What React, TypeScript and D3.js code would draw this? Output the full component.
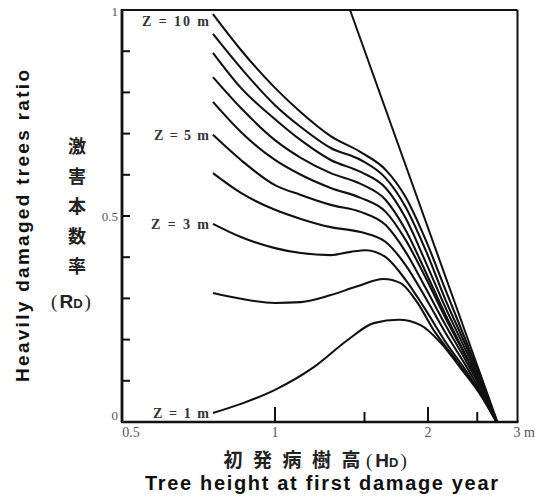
import React from 'react';
import * as d3 from 'd3';

// Tree height at first damage year (m) sample points
const hGrid = [0.755, 0.857, 1.0, 1.124, 1.287, 1.474, 1.651, 1.807, 1.979, 2.166, 2.371, 2.56, 2.728];
const hZ3 = [0.755, 0.857, 1.0, 1.124, 1.287, 1.409, 1.508, 1.651, 1.807, 1.979, 2.166, 2.371, 2.56, 2.728];
const hZ2 = [0.755, 0.857, 1.0, 1.124, 1.287, 1.441, 1.636, 1.767, 1.908, 2.052, 2.246, 2.425, 2.619, 2.728];
const hZ1 = [0.755, 0.857, 1.0, 1.192, 1.39, 1.564, 1.751, 1.934, 2.118, 2.318, 2.515, 2.728];

// Heavily damaged trees ratio per Z
const rZ10 = [0.99, 0.903, 0.811, 0.752, 0.694, 0.655, 0.612, 0.546, 0.442, 0.32, 0.199, 0.097, 0];
const rZ9 = [0.942, 0.859, 0.769, 0.716, 0.665, 0.636, 0.592, 0.522, 0.417, 0.296, 0.187, 0.09, 0];
const rZ8 = [0.896, 0.811, 0.735, 0.684, 0.636, 0.607, 0.568, 0.495, 0.388, 0.277, 0.175, 0.083, 0];
const rZ7 = [0.837, 0.762, 0.684, 0.641, 0.604, 0.578, 0.539, 0.466, 0.364, 0.26, 0.163, 0.078, 0];
const rZ6 = [0.777, 0.704, 0.636, 0.6, 0.568, 0.544, 0.51, 0.442, 0.35, 0.252, 0.16, 0.078, 0];
const rZ5 = [0.697, 0.636, 0.575, 0.551, 0.527, 0.51, 0.478, 0.413, 0.325, 0.235, 0.15, 0.073, 0];
const rZ4 = [0.604, 0.556, 0.515, 0.493, 0.473, 0.461, 0.437, 0.381, 0.301, 0.216, 0.138, 0.066, 0];
const rZ3 = [0.481, 0.449, 0.422, 0.41, 0.405, 0.413, 0.417, 0.4, 0.345, 0.272, 0.194, 0.126, 0.061, 0];
const rZ2 = [0.313, 0.299, 0.289, 0.291, 0.308, 0.328, 0.347, 0.337, 0.289, 0.223, 0.158, 0.102, 0.046, 0];
const rZ1 = [0.022, 0.044, 0.078, 0.133, 0.199, 0.24, 0.248, 0.235, 0.192, 0.131, 0.073, 0];

// Envelope straight line
const envelopeH = [1.405, 2.74];
const envelopeR = [1, 0];

const labeledZ = [10, 5, 3, 1];
const labelWidths = [67, 55, 58, 56];

const xTickMajor = [1, 2];
const xTickMinor = [1.5, 2.5];
const xTickLabels = [
  { v: 0.5, t: '0.5' },
  { v: 1, t: '1' },
  { v: 2, t: '2' },
  { v: 3, t: '3 m' },
];
const yTickLabels = [
  { v: 1, t: '1' },
  { v: 0.5, t: '0.5' },
  { v: 0, t: '0' },
];
const jpYTitle = ['激', '害', '本', '数', '率'];
const jpXTitle = ['初', '発', '病', '樹', '高'];

export default function App() {
  const x = d3.scaleLog().domain([0.5, 3]).range([122, 517.5]);
  const y = d3.scaleLinear().domain([0, 1]).range([422, 10]);
  const line = d3
    .line<[number, number]>()
    .x((d) => x(d[0]))
    .y((d) => y(d[1]))
    .curve(d3.curveMonotoneX);

  const seriesData: { z: number; h: number[]; r: number[] }[] = [
    { z: 10, h: hGrid, r: rZ10 },
    { z: 9, h: hGrid, r: rZ9 },
    { z: 8, h: hGrid, r: rZ8 },
    { z: 7, h: hGrid, r: rZ7 },
    { z: 6, h: hGrid, r: rZ6 },
    { z: 5, h: hGrid, r: rZ5 },
    { z: 4, h: hGrid, r: rZ4 },
    { z: 3, h: hZ3, r: rZ3 },
    { z: 2, h: hZ2, r: rZ2 },
    { z: 1, h: hZ1, r: rZ1 },
  ];

  const yMinorTicks = d3.range(1, 10).map((i) => i / 10);
  const [x0, x1] = x.range();
  const [yb, yt] = y.range();

  const envPts: [number, number][] = envelopeH.map((h, i) => [h, envelopeR[i]]);

  return (
    <svg
      width={535}
      height={497}
      style={{ position: 'absolute', left: 0, top: 0, background: '#fff' }}
    >
      <rect x={0} y={0} width={535} height={497} fill="#fff" />
      {/* frame */}
      <line x1={x0} y1={yt} x2={x1} y2={yt} stroke="#111" strokeWidth={2} />
      <line x1={x1} y1={yt} x2={x1} y2={yb} stroke="#111" strokeWidth={2} />
      <line x1={x0} y1={yt - 1} x2={x0} y2={yb} stroke="#111" strokeWidth={2.8} />
      <line x1={x0 - 1} y1={yb} x2={x1 + 1} y2={yb} stroke="#111" strokeWidth={2.6} />

      {/* y ticks */}
      {yMinorTicks.map((v) => (
        <line key={'yt' + v} x1={x0} x2={x0 + 8} y1={y(v)} y2={y(v)} stroke="#111" strokeWidth={2} />
      ))}
      {/* x ticks */}
      {xTickMajor.map((v) => (
        <line key={'xM' + v} x1={x(v)} x2={x(v)} y1={yb} y2={yb - 15} stroke="#111" strokeWidth={2} />
      ))}
      {xTickMinor.map((v) => (
        <line key={'xm' + v} x1={x(v)} x2={x(v)} y1={yb} y2={yb - 10} stroke="#111" strokeWidth={2} />
      ))}

      {/* tick labels */}
      {yTickLabels.map((d) => (
        <text
          key={'yl' + d.v}
          x={x0 - 4}
          y={d.v === 1 ? y(d.v) + 6 : d.v === 0 ? y(d.v) - 2 : y(d.v) + 5}
          textAnchor="end"
          fontFamily="Liberation Serif, serif"
          fontSize={13}
          fill="#555"
        >
          {d.t}
        </text>
      ))}
      {xTickLabels.map((d) => (
        <text
          key={'xl' + d.v}
          x={d.v === 3 ? x(d.v) - 4 : d.v === 0.5 ? x(d.v) + 9 : x(d.v)}
          y={yb + 15}
          textAnchor={d.v === 3 ? 'start' : 'middle'}
          fontFamily="Liberation Serif, serif"
          fontSize={14}
          fill="#555"
        >
          {d.t}
        </text>
      ))}

      {/* envelope line */}
      <path d={line(envPts) || ''} fill="none" stroke="#111" strokeWidth={2} />

      {/* curves */}
      {seriesData.map((s) => {
        const pts: [number, number][] = s.h.map((h, i) => [h, s.r[i]]);
        return <path key={'c' + s.z} d={line(pts) || ''} fill="none" stroke="#111" strokeWidth={2.1} />;
      })}

      {/* Z labels */}
      {labeledZ.map((z, i) => {
        const s = seriesData.find((d) => d.z === z)!;
        const sx = x(s.h[0]);
        const sy = Math.max(y(s.r[0]), 21);
        return (
          <text
            key={'zl' + z}
            x={sx - 4 - labelWidths[i]}
            y={sy + 5}
            textLength={labelWidths[i]}
            lengthAdjust="spacing"
            fontFamily="Liberation Serif, serif"
            fontSize={14}
            fontWeight="bold"
            fill="#333"
            xmlSpace="preserve"
          >
            {'Z = ' + z + ' m'}
          </text>
        );
      })}

      {/* y axis title */}
      <text
        transform="translate(29,226) rotate(-90)"
        textAnchor="middle"
        fontFamily="Liberation Sans, Arial, sans-serif"
        fontWeight="bold"
        fontSize={19}
        textLength={312}
        lengthAdjust="spacing"
        fill="#111"
      >
        Heavily damaged trees ratio
      </text>
      {jpYTitle.map((c, i) => (
        <text
          key={'jy' + i}
          x={77}
          y={146 + i * 30 + 7}
          textAnchor="middle"
          fontFamily="Noto Sans CJK JP, sans-serif"
          fontWeight="bold"
          fontSize={18}
          fill="#222"
        >
          {c}
        </text>
      ))}
      <text x={71} y={308} textAnchor="middle" fontFamily="Liberation Sans, sans-serif" fontWeight="bold" fontSize={19} fill="#222">
        <tspan fontWeight="normal" fontFamily="Liberation Serif, serif">(</tspan>
        <tspan dx={2}>R</tspan>
        <tspan fontSize={13}>D</tspan>
        <tspan dx={2} fontWeight="normal" fontFamily="Liberation Serif, serif">)</tspan>
      </text>

      {/* x axis titles */}
      {jpXTitle.map((c, i) => (
        <text
          key={'jx' + i}
          x={233 + i * 29.5}
          y={467}
          textAnchor="middle"
          fontFamily="Noto Sans CJK JP, sans-serif"
          fontWeight="bold"
          fontSize={19}
          fill="#222"
        >
          {c}
        </text>
      ))}
      <text x={366} y={467} fontFamily="Liberation Sans, sans-serif" fontWeight="bold" fontSize={19} fill="#222">
        <tspan fontWeight="normal" fontFamily="Liberation Serif, serif">(</tspan>
        <tspan dx={3}>H</tspan>
        <tspan fontSize={13}>D</tspan>
        <tspan dx={2} fontWeight="normal" fontFamily="Liberation Serif, serif">)</tspan>
      </text>
      <text
        x={145}
        y={490}
        textLength={353}
        lengthAdjust="spacing"
        fontFamily="Liberation Sans, Arial, sans-serif"
        fontWeight="bold"
        fontSize={20}
        fill="#111"
      >
        Tree height at first damage year
      </text>
    </svg>
  );
}
